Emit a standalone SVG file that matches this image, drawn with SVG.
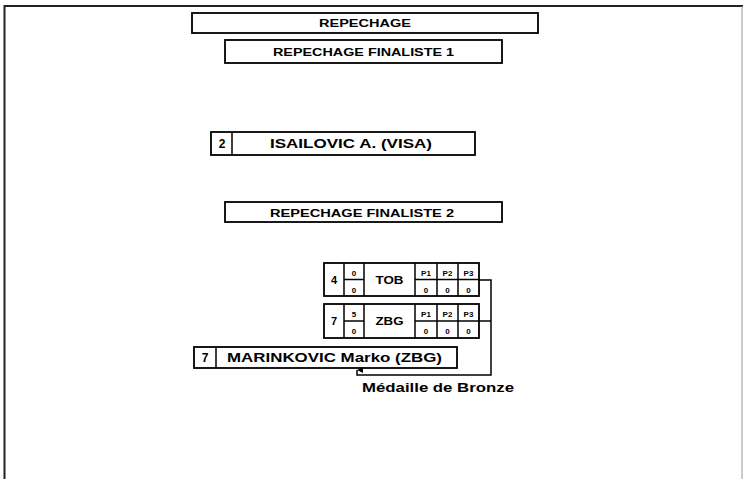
<svg xmlns="http://www.w3.org/2000/svg" width="743" height="479" viewBox="0 0 743 479">
<style>
.box{fill:#fff;stroke:#000;stroke-width:1.8}
.ln{stroke:#000;stroke-width:1.5;fill:none}
.t{font-family:"Liberation Sans",Arial,sans-serif;font-weight:bold;fill:#000;text-anchor:middle}
.s{font-size:8px}
.m{font-size:10.5px}
.n{font-size:11px}
.l{font-size:12px}
</style>
<defs>
<marker id="ah" viewBox="0 0 6 6" refX="3" refY="0" markerWidth="6" markerHeight="6" orient="auto-start-reverse" markerUnits="userSpaceOnUse">
<path d="M0,6 L3,0 L6,6 Z" fill="#000"/>
</marker>
</defs>
<rect x="0" y="0" width="743" height="479" fill="#fff"/>
<g id="frame">
<line x1="4.5" y1="6" x2="743" y2="6" stroke="#222" stroke-width="2"/>
<line x1="4.5" y1="5" x2="4.5" y2="479" stroke="#222" stroke-width="2"/>
<line x1="742" y1="6" x2="742" y2="479" stroke="#999" stroke-width="1"/>
</g>
<g id="title">
<rect class="box" x="192" y="13" width="346" height="20"/>
<text class="t m" x="365" y="27" textLength="92" lengthAdjust="spacingAndGlyphs">REPECHAGE</text>
</g>
<g id="finaliste1">
<rect class="box" x="225" y="40" width="277" height="23"/>
<text class="t m" x="363.5" y="56" textLength="181" lengthAdjust="spacingAndGlyphs">REPECHAGE FINALISTE 1</text>
</g>
<g id="isailovic">
<rect class="box" x="211" y="132" width="264" height="23"/>
<line class="ln" x1="232" y1="132" x2="232" y2="155"/>
<text class="t l" x="222" y="148">2</text>
<text class="t l" x="351" y="148" textLength="162" lengthAdjust="spacingAndGlyphs">ISAILOVIC A. (VISA)</text>
</g>
<g id="finaliste2">
<rect class="box" x="225" y="202" width="277" height="20"/>
<text class="t m" x="362" y="216.5" textLength="184" lengthAdjust="spacingAndGlyphs">REPECHAGE FINALISTE 2</text>
</g>
<g id="match-tob">
<rect class="box" x="324" y="263" width="155" height="33"/>
<line class="ln" x1="344" y1="263" x2="344" y2="296"/>
<line class="ln" x1="364" y1="263" x2="364" y2="296"/>
<line class="ln" x1="415" y1="263" x2="415" y2="296"/>
<line class="ln" x1="437" y1="263" x2="437" y2="296"/>
<line class="ln" x1="458" y1="263" x2="458" y2="296"/>
<line class="ln" x1="344" y1="279.5" x2="364" y2="279.5"/>
<line class="ln" x1="415" y1="279.5" x2="479" y2="279.5"/>
<text class="t n" x="334" y="284">4</text>
<text class="t s" x="354" y="276">0</text>
<text class="t s" x="354" y="292.5">0</text>
<text class="t n" x="389.5" y="284" textLength="28" lengthAdjust="spacingAndGlyphs">TOB</text>
<text class="t s" x="426" y="276">P1</text>
<text class="t s" x="447.5" y="276">P2</text>
<text class="t s" x="468.5" y="276">P3</text>
<text class="t s" x="426" y="292.5">0</text>
<text class="t s" x="447.5" y="292.5">0</text>
<text class="t s" x="468.5" y="292.5">0</text>
</g>
<g id="match-zbg">
<rect class="box" x="324" y="304" width="155" height="34"/>
<line class="ln" x1="344" y1="304" x2="344" y2="338"/>
<line class="ln" x1="364" y1="304" x2="364" y2="338"/>
<line class="ln" x1="415" y1="304" x2="415" y2="338"/>
<line class="ln" x1="437" y1="304" x2="437" y2="338"/>
<line class="ln" x1="458" y1="304" x2="458" y2="338"/>
<line class="ln" x1="344" y1="321" x2="364" y2="321"/>
<line class="ln" x1="415" y1="321" x2="479" y2="321"/>
<text class="t n" x="334" y="325">7</text>
<text class="t s" x="354" y="317">5</text>
<text class="t s" x="354" y="334">0</text>
<text class="t n" x="389.5" y="325" textLength="28" lengthAdjust="spacingAndGlyphs">ZBG</text>
<text class="t s" x="426" y="317">P1</text>
<text class="t s" x="447.5" y="317">P2</text>
<text class="t s" x="468.5" y="317">P3</text>
<text class="t s" x="426" y="334">0</text>
<text class="t s" x="447.5" y="334">0</text>
<text class="t s" x="468.5" y="334">0</text>
</g>
<g id="marinkovic">
<rect class="box" x="194" y="347" width="263" height="21"/>
<line class="ln" x1="216" y1="347" x2="216" y2="368"/>
<text class="t l" x="205" y="362">7</text>
<text class="t l" x="334.5" y="362" textLength="215" lengthAdjust="spacingAndGlyphs">MARINKOVIC Marko (ZBG)</text>
</g>
<g id="connectors">
<polyline class="ln" points="479,280 491,280 491,375 357,375 357,370" marker-end="url(#ah)"/>
<line class="ln" x1="479" y1="321" x2="491" y2="321"/>
</g>
<g id="bronze">
<text class="t l" x="438" y="392" textLength="152" lengthAdjust="spacingAndGlyphs">Médaille de Bronze</text>
</g>
</svg>
